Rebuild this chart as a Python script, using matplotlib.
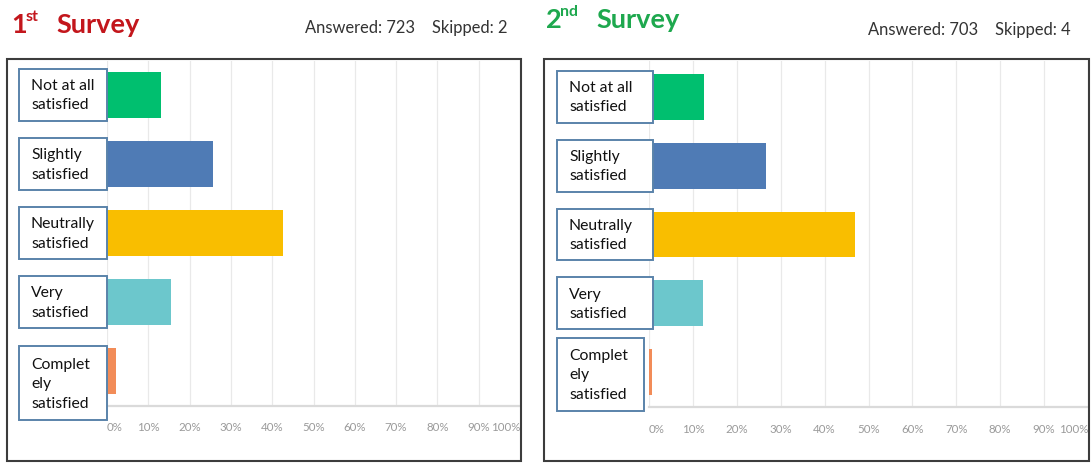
import matplotlib.pyplot as plt
import matplotlib.transforms as mtransforms
from matplotlib.patches import Rectangle

# survey answers, share of respondents in percent
categories = ["Not at all\nsatisfied", "Slightly\nsatisfied", "Neutrally\nsatisfied",
              "Very\nsatisfied", "Complet\nely\nsatisfied"]
first_survey = [13.1, 25.7, 42.5, 15.6, 2.1]
second_survey = [12.6, 26.7, 47.0, 12.2, 0.7]
first_counts = "Answered: 723    Skipped: 2"
second_counts = "Answered: 703    Skipped: 4"

bar_colors = ["#00bf6f", "#4f7bb5", "#f9be00", "#6cc7cc", "#f28c58"]
ticks = list(range(0, 101, 10))
tick_labels = [f"{t}%" for t in ticks]

W, H = 1091, 464
plt.rcParams['font.family'] = ['Lato', 'DejaVu Sans']
fig = plt.figure(figsize=(W / 100, H / 100), dpi=100)
fig.patch.set_facecolor('white')


def fx(x):
    return x / W


def fy(y):
    return 1 - y / H


def frame(x0, y0, x1, y1):
    fig.patches.append(Rectangle((fx(x0), fy(y1)), fx(x1) - fx(x0), fy(y0) - fy(y1),
                                 transform=fig.transFigure, fill=False,
                                 ec='#3c3c3c', lw=1.5, zorder=5))


def panel(values, x0, x100, top, base, first, step, box_x, last_box):
    ax = fig.add_axes([fx(x0), fy(base), fx(x100) - fx(x0), fy(top) - fy(base)])
    ax.set_xlim(0, 100)
    ax.set_ylim((base - first) / step, (top - first) / step)
    ax.patch.set_alpha(0)

    for t in ticks:
        ax.axvline(t, color='#e9e9e9', lw=0.9, zorder=0)
    ax.barh(range(len(values)), values, height=0.665, color=bar_colors, zorder=2)

    for side in ['top', 'left', 'right']:
        ax.spines[side].set_visible(False)
    ax.spines['bottom'].set_color('#dadada')
    ax.spines['bottom'].set_linewidth(1.6)
    ax.set_yticks([])
    ax.set_xticks(ticks, tick_labels)
    ax.tick_params(axis='x', length=0, pad=11, labelsize=8.3, labelcolor='#9a9a9a')
    labels = ax.get_xticklabels()
    labels[0].set_ha('left')
    labels[-1].set_ha('right')

    # label boxes sit left of the bars
    trans = mtransforms.blended_transform_factory(ax.transAxes, ax.transData)
    axw = x100 - x0
    for i, name in enumerate(categories):
        left, right = box_x
        if i == len(categories) - 1:
            y0 = (last_box[0] - first) / step
            y1 = (last_box[1] - first) / step
            right = last_box[2]
        else:
            y0, y1 = i - 0.377, i + 0.377
        bl = (left - x0) / axw
        br = (right - x0) / axw
        ax.add_patch(Rectangle((bl, y0), br - bl, y1 - y0, transform=trans, clip_on=False,
                               fc='white', ec='#5a83aa', lw=1.4, zorder=3))
        ax.text(bl + 12 / axw, (y0 + y1) / 2, name, transform=trans, ha='left', va='center',
                fontsize=11.3, linespacing=1.5, color='#111111', zorder=4, clip_on=False)
    return ax


panel(first_survey, 107, 520, 62, 406.7, 95.7, 69.1, (19, 107), (347, 421, 107))
panel(second_survey, 649, 1088, 62, 408.3, 97.7, 68.9, (557, 652.7), (338.7, 412, 644.3))

frame(7, 60, 521, 462)
frame(544, 60, 1089, 462)

# headings
red, green = '#c3161c', '#1ea84e'
fig.text(fx(11), fy(33), "1", color=red, fontsize=19.5, fontweight='bold', va='baseline')
fig.text(fx(26), fy(21), "st", color=red, fontsize=11.5, fontweight='bold', va='baseline')
fig.text(fx(56), fy(33), "Survey", color=red, fontsize=19.5, fontweight='bold', va='baseline')
fig.text(fx(305), fy(33), first_counts, color='#333333', fontsize=11.9, va='baseline')

fig.text(fx(546), fy(28), "2", color=green, fontsize=19.5, fontweight='bold', va='baseline')
fig.text(fx(560), fy(16), "nd", color=green, fontsize=11.5, fontweight='bold', va='baseline')
fig.text(fx(596), fy(28), "Survey", color=green, fontsize=19.5, fontweight='bold', va='baseline')
fig.text(fx(868), fy(35), second_counts, color='#333333', fontsize=11.9, va='baseline')

fig.savefig('out.png', dpi=100, facecolor='white')
